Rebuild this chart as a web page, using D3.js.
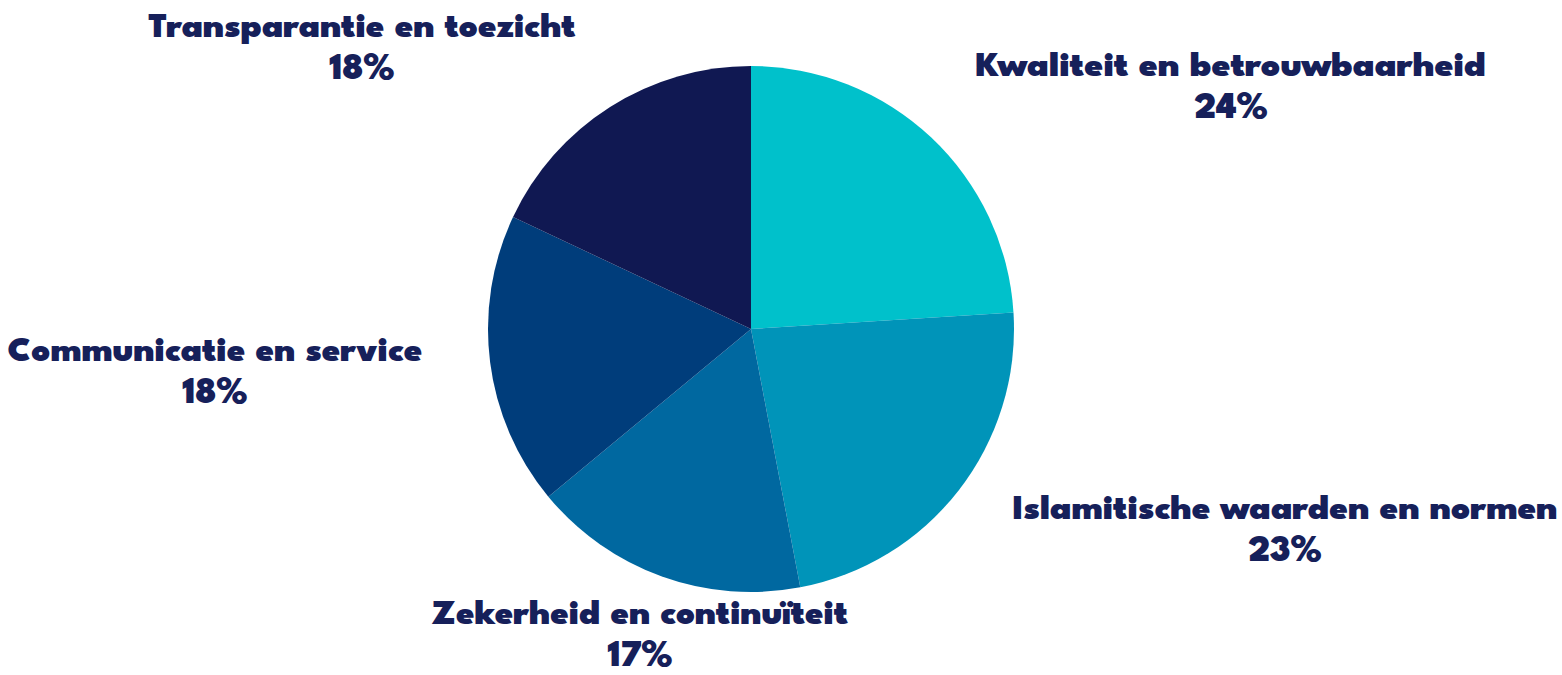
<!DOCTYPE html>
<html>
<head>
<meta charset="utf-8">
<script src="https://cdn.jsdelivr.net/npm/d3@7"></script>
<style>
  body { margin: 0; background: #fff; }
  text { font-family: "League Spartan", Lato, "Open Sans", sans-serif; font-weight: 900; fill: #16205a; }
</style>
</head>
<body>
<div id="chart"></div>
<script>
// data
var categories = ["Kwaliteit en betrouwbaarheid", "Islamitische waarden en normen",
  "Zekerheid en continuïteit", "Communicatie en service", "Transparantie en toezicht"];
var values = [24, 23, 17, 18, 18];
var colors = ["#00c1cb", "#0094b9", "#0068a0", "#003d7b", "#101852"];

// label placement (center x, baseline of first line)
var labelPos = [[1231, 76], [1285, 519], [640, 624], [215, 361], [362, 37]];
var labelWidth = [510, 545, 416, 415, 427];

var svgWidth = 1562, svgHeight = 675;
var cx = 751, cy = 329, radius = 263;

var svg = d3.select("#chart").append("svg")
  .attr("width", svgWidth)
  .attr("height", svgHeight);

var data = categories.map(function(c, i) { return {name: c, value: values[i], color: colors[i]}; });

var pie = d3.pie().value(d => d.value).sort(null);
var arc = d3.arc().innerRadius(0).outerRadius(radius);

var g = svg.append("g").attr("transform", `translate(${cx}, ${cy})`);

g.selectAll("path")
  .data(pie(data))
  .enter()
  .append("path")
  .attr("d", arc)
  .attr("fill", d => d.data.color);

// labels
var labels = svg.selectAll("g.label")
  .data(data)
  .enter()
  .append("g")
  .attr("class", "label")
  .attr("transform", (d, i) => `translate(${labelPos[i][0]}, ${labelPos[i][1]})`);

labels.append("text")
  .attr("text-anchor", "middle")
  .style("font-size", "36px")
  .attr("textLength", (d, i) => labelWidth[i])
  .attr("lengthAdjust", "spacingAndGlyphs")
  .text(d => d.name);

labels.append("text")
  .attr("text-anchor", "middle")
  .attr("y", 42)
  .style("font-size", "37px")
  .text(d => d.value + "%");
</script>
</body>
</html>
